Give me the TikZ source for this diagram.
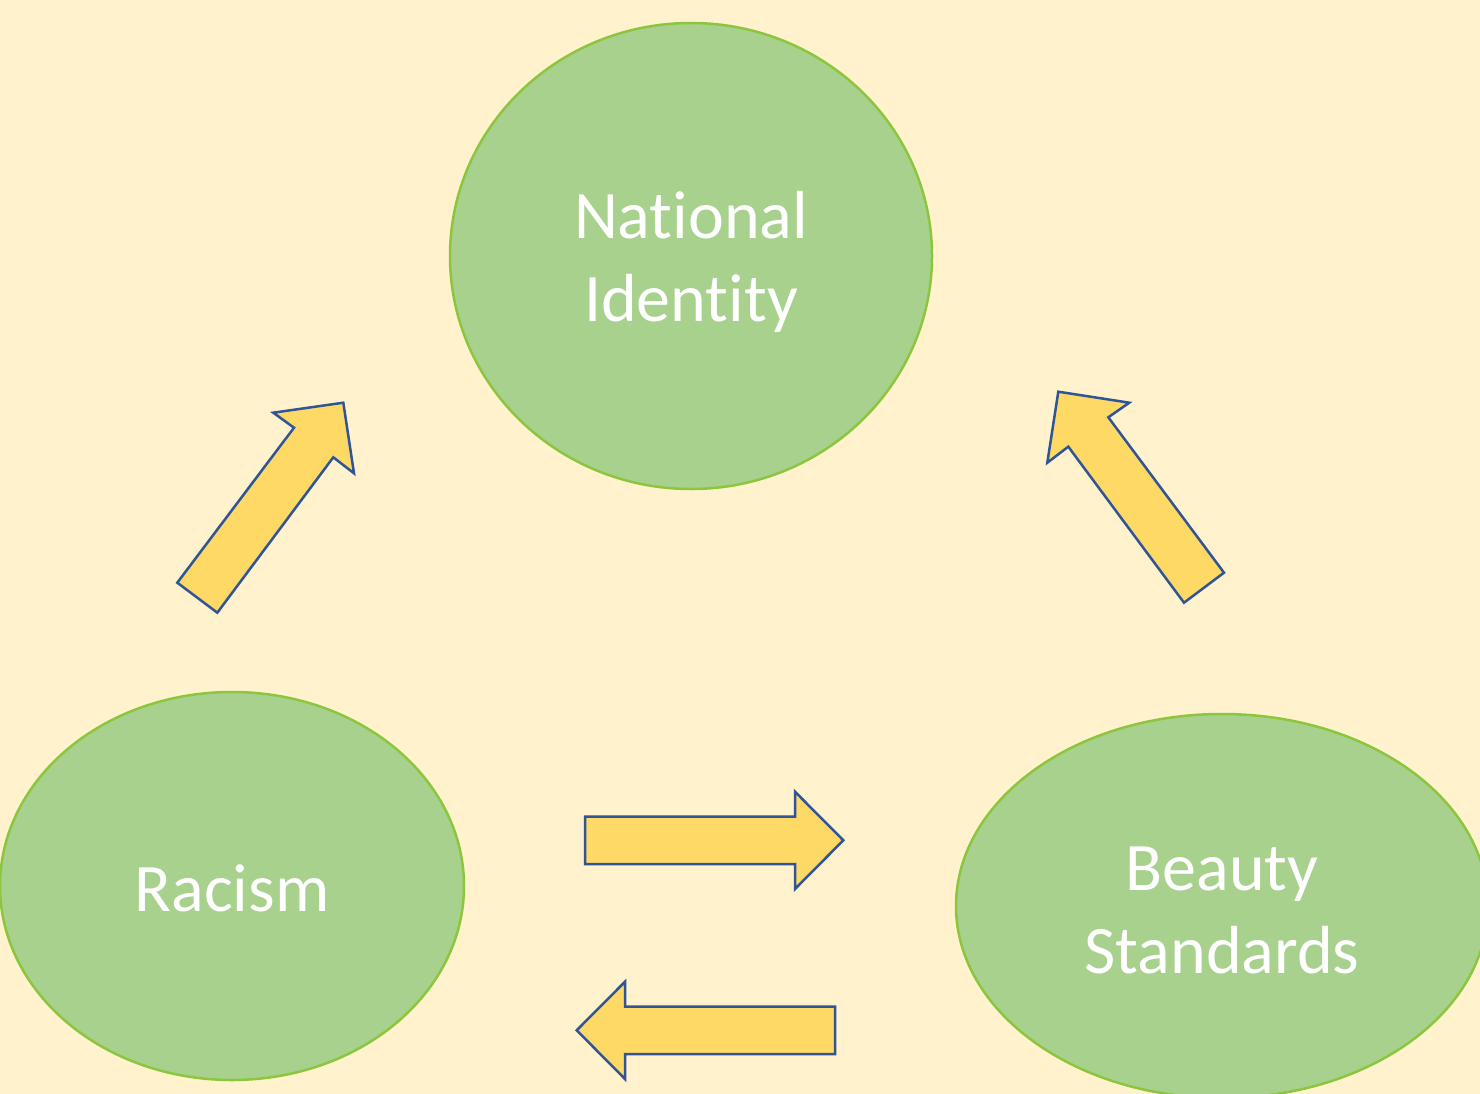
\documentclass[tikz,border=0pt]{standalone}
\usepackage{fontspec}
\setmainfont[RawFeature={-liga}]{Carlito}
\usetikzlibrary{shapes.geometric}
\definecolor{bgcream}{HTML}{FFF2CC}
\definecolor{ellfill}{HTML}{A9D18E}
\definecolor{ellline}{HTML}{8CC63F}
\definecolor{arrfill}{HTML}{FFD966}
\definecolor{arrline}{HTML}{2F5597}
\tikzset{
  bubble/.style={ellipse, draw=ellline, fill=ellfill, line width=2.5pt, inner sep=0pt},
  bubbletext/.style={inner sep=0pt, text=white, align=center, font=\fontsize{68}{83}\selectfont},
  blockarrow/.style={draw=arrline, fill=arrfill, line width=2.5pt, line join=miter}
}
\begin{document}
\begin{tikzpicture}[x=1pt,y=-1pt]
\fill[bgcream] (0,0) rectangle (1480,1094);
\useasboundingbox (0,0) rectangle (1480,1094);
\clip (0,0) rectangle (1480,1094);
\node[bubble, minimum width=482pt, minimum height=466pt] (nat) at (691,256) {};
\node[bubble, minimum width=464pt, minimum height=388pt] (rac) at (232,886) {};
\node[bubble, minimum width=532pt, minimum height=384pt] (bea) at (1222,906) {};
\node[bubbletext, yshift=-6pt] (natt) at (nat.center) {National\\Identity};
\node[bubbletext, yshift=-2pt] (ract) at (rac.center) {Racism};
\node[bubbletext, yshift=-4pt] (beat) at (bea.center) {Beauty\\Standards};
% arrow Racism -> National Identity
\draw[blockarrow] (177.3,582.7) -- (294,427.7) -- (273.3,412.7) -- (343.3,402.7) -- (354,473.3) -- (333.3,457.3) -- (217.3,612.7) -- cycle;
% arrow Beauty Standards -> National Identity
\draw[blockarrow] (1184,602.7) -- (1068.3,446.7) -- (1047.3,462.7) -- (1058.3,391.7) -- (1129.3,402.7) -- (1108.3,417.3) -- (1224,572.7) -- cycle;
% arrow Racism -> Beauty Standards
\draw[blockarrow] (585,816.7) -- (795,816.7) -- (795,791.7) -- (843.3,840.3) -- (795,889) -- (795,864) -- (585,864) -- cycle;
% arrow Beauty Standards -> Racism
\draw[blockarrow] (835,1006.7) -- (625,1006.7) -- (625,981.7) -- (576.7,1030.3) -- (625,1079) -- (625,1054) -- (835,1054) -- cycle;
\end{tikzpicture}
\end{document}
